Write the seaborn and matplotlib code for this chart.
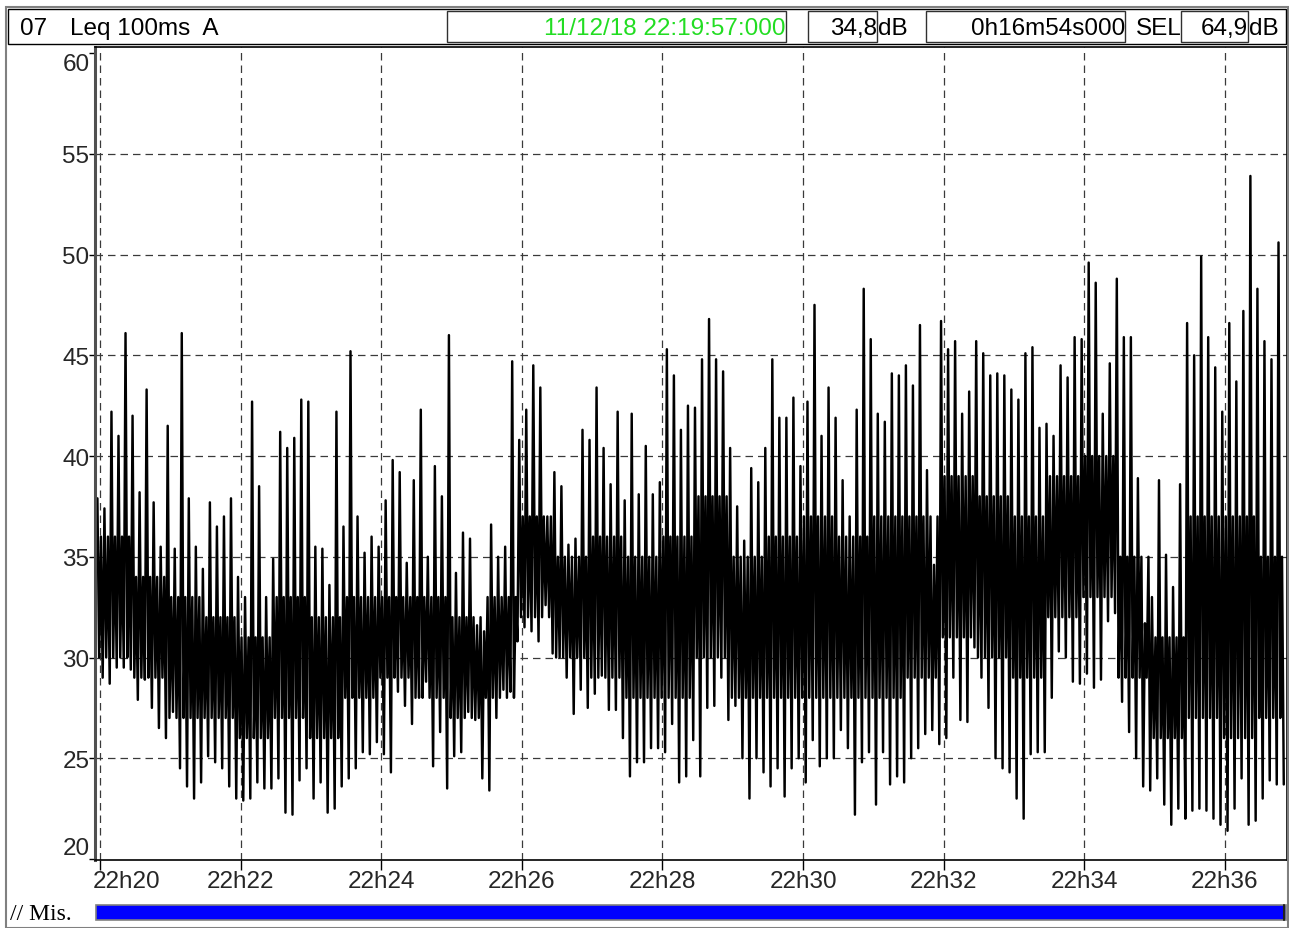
import numpy as np
import pandas as pd
import matplotlib
matplotlib.use("Agg")
import matplotlib.pyplot as plt
import matplotlib.transforms as mtrans
from matplotlib.patches import Rectangle
from matplotlib.lines import Line2D
import seaborn as sns

# Leq 100ms A, recording starts 11/12/18 22:19:57, lasts 16m54s (1014 s)
# values: upper and lower excursions per 6 s slice
peaks = [
    37.9, 37.4, 42.2, 41.0, 46.1, 42.0, 38.2, 43.3, 37.7, 35.5, 41.5, 35.4, 46.1, 37.9, 35.5, 34.4, 37.7, 36.5, 37.0, 37.9,
    34.0, 33.0, 42.7, 38.5, 33.0, 34.9, 41.2, 40.4, 40.9, 42.8, 42.7, 35.5, 35.4, 33.6, 42.2, 36.5, 45.2, 37.0, 35.2, 36.0, 35.5, 37.8,
    39.8, 39.2, 34.7, 38.8, 42.3, 35.0, 39.5, 38.0, 46.0, 34.2, 36.2, 35.9, 31.6, 31.3, 36.6, 35.0, 35.5, 44.7, 40.8, 42.3, 44.5,
    43.4, 37.0, 39.2, 38.5, 35.6, 35.9, 41.3, 40.8, 43.4, 40.4, 38.6, 42.2, 37.8, 42.1, 38.1, 40.5, 38.1, 38.7, 45.3, 44.0, 41.3, 42.5,
    42.4, 44.8, 46.8, 44.8, 44.2, 40.4, 37.5, 35.8, 39.4, 38.7, 40.4, 44.8, 41.9, 41.9, 42.9, 39.5, 42.7, 47.5, 41.0, 43.4, 41.9,
    38.8, 37.0, 42.3, 48.3, 45.8, 42.1, 41.7, 44.1, 44.0, 44.5, 43.5, 46.5, 39.3, 34.6, 46.7, 45.3, 45.7, 42.1, 43.2, 45.7, 45.1, 44.0,
    44.1, 44.0, 43.3, 42.8, 45.1, 45.4, 41.4, 41.6, 41.0, 44.5, 43.9, 45.9, 45.8, 49.6, 48.6, 42.1, 44.6, 48.8, 45.9, 45.9, 38.9,
    31.7, 33.0, 38.8, 35.1, 33.5, 38.6, 46.6, 45.0, 49.9, 45.9, 44.4, 42.2, 46.6, 43.7, 47.2, 53.9, 48.3, 45.7, 44.8, 50.6,
]
troughs = [
    29.0, 28.7, 29.5, 29.5, 29.4, 27.9, 28.9, 27.5, 26.5, 26.0, 27.3, 24.5, 23.6, 23.0, 23.8, 25.1, 24.8, 24.5, 23.6, 23.0,
    22.9, 23.0, 23.8, 23.5, 23.5, 24.0, 22.3, 22.2, 23.9, 24.5, 23.0, 23.8, 22.3, 22.5, 23.6, 24.0, 24.5, 25.3, 25.2, 25.8, 25.2, 24.3,
    28.3, 27.6, 26.7, 28.0, 28.8, 24.6, 26.3, 23.5, 25.1, 25.3, 27.3, 26.9, 24.0, 23.4, 27.0, 28.4, 28.3, 30.8, 31.5, 31.3, 30.8,
    32.6, 30.2, 30.0, 29.0, 27.2, 28.4, 27.5, 28.2, 29.1, 27.4, 27.4, 26.0, 24.1, 24.8, 24.8, 25.5, 25.5, 25.3, 26.7, 23.8, 24.1, 25.9,
    24.1, 27.5, 27.6, 29.0, 26.9, 27.6, 25.0, 23.0, 25.0, 24.3, 23.6, 24.5, 23.1, 24.5, 25.0, 23.8, 25.9, 24.6, 25.0, 25.0, 26.4,
    25.5, 22.2, 24.8, 25.3, 22.7, 25.3, 23.7, 24.1, 23.8, 25.0, 25.5, 26.2, 26.4, 25.7, 26.0, 29.0, 26.9, 26.8, 30.5, 29.0, 27.5, 25.0,
    24.5, 24.3, 23.0, 22.0, 25.2, 25.3, 25.3, 28.0, 30.3, 30.0, 28.8, 28.7, 29.2, 28.5, 28.9, 31.8, 32.2, 27.8, 26.3, 25.0, 23.6,
    23.4, 24.0, 22.7, 21.7, 22.5, 22.0, 22.4, 22.5, 22.4, 22.0, 21.7, 21.4, 22.5, 24.0, 21.7, 21.9, 23.0, 23.9, 23.7, 23.7,
]
# dense middle of the trace, per 30 s slice
core_lo = [30, 29, 27, 27, 26, 27, 26, 28, 29, 28, 27, 28, 32, 30, 29, 28, 28,
           30, 28, 28, 28, 28, 28, 29, 31, 30, 29, 32, 33, 29, 26, 27, 26, 27]
core_hi = [36, 34, 33, 32, 31, 33, 32, 33, 33, 33, 32, 33, 37, 35, 36, 35, 36,
           38, 35, 36, 37, 36, 37, 37, 39, 38, 37, 39, 40, 35, 31, 37, 37, 35]

tick_labels = ["22h20", "22h22", "22h24", "22h26", "22h28", "22h30", "22h32", "22h34", "22h36"]
y_ticks = [20, 25, 30, 35, 40, 45, 50, 55, 60]

# trace per 6 s slice: high excursion, dense band, low excursion
step = 6
t_vals, db_vals = [], []
for i, (p, q) in enumerate(zip(peaks, troughs)):
    k = min(i // 5, len(core_lo) - 1)
    t0 = i * step
    t_vals += [t0 + 0.75, t0 + 2.25, t0 + 3.75, t0 + 5.25]
    db_vals += [p, core_lo[k], core_hi[k], q]
level_df = pd.DataFrame({"t": t_vals, "db": db_vals})
tick_sec = [3 + 120 * i for i in range(len(tick_labels))]

W, H = 1289, 929
sns.set_theme(style="white")
plt.rcParams["font.family"] = ["Liberation Sans", "DejaVu Sans"]

fig = plt.figure(figsize=(W / 100, H / 100), dpi=100)


def fx(px):
    return px / W


def fy(py):
    return 1 - py / H


ax = fig.add_axes([fx(95), fy(861), fx(1287) - fx(95), fy(48) - fy(861)])
sns.lineplot(data=level_df, x="t", y="db", ax=ax, color="black", lw=1.75,
             estimator=None, sort=False, legend=False)

ax.set_xlim(-1.3, 1016)
ax.set_ylim(19.95, 60.3)
for yv in y_ticks[1:-1]:
    ax.axhline(yv, color="#3a3a3a", lw=0.9, ls=(0, (6, 4)), zorder=0)
for tv in tick_sec:
    ax.axvline(tv, color="#3a3a3a", lw=0.9, ls=(0, (6, 4)), zorder=0)

ax.set_xticks(tick_sec)
ax.set_xticklabels(tick_labels)
ax.set_yticks(y_ticks)
ax.set_yticklabels([str(v) for v in y_ticks])
ax.set_xlabel("")
ax.set_ylabel("")
ax.tick_params(axis="x", direction="out", length=7, width=1, color="black",
               labelsize=17.5, pad=0.5, bottom=True)
ax.tick_params(axis="y", direction="out", length=4, width=1, color="black",
               labelsize=17.5, pad=0, left=True)
for s in ax.spines.values():
    s.set_color("black")
    s.set_linewidth(1.2)
ax.spines["left"].set_linewidth(2.2)
ax.spines["left"].set_color("#505050")

ylabs = ax.get_yticklabels()
ylabs[-1].set_va("top")
ylabs[0].set_va("bottom")
first = ax.get_xticklabels()[0]
first.set_ha("left")
first.set_transform(first.get_transform() + mtrans.ScaledTranslation(-7 / 100, 0, fig.dpi_scale_trans))

# outer frame and header
fig.add_artist(Rectangle((fx(6), fy(929)), fx(1288) - fx(6), fy(8) - fy(929),
                         transform=fig.transFigure, fill=False, ec="#808080", lw=1.5))
fig.add_artist(Rectangle((fx(8), fy(45)), fx(1286) - fx(8), fy(10) - fy(45),
                         transform=fig.transFigure, fill=False, ec="black", lw=1))
for x0, x1 in [(447, 786), (808, 877), (926, 1125), (1181, 1248)]:
    fig.add_artist(Rectangle((fx(x0), fy(43)), fx(x1) - fx(x0), fy(12) - fy(43),
                             transform=fig.transFigure, fill=False, ec="#303030", lw=1))

hdr = dict(fontsize=17.5, va="center", color="black")
yh = fy(29)
fig.text(fx(20), yh, "07", ha="left", **hdr)
fig.text(fx(70), yh, "Leq 100ms  A", ha="left", **hdr)
fig.text(fx(786), yh, "11/12/18 22:19:57:000", ha="right", fontsize=17.5, va="center", color="#22dd22")
fig.text(fx(877), yh, "34,8", ha="right", **hdr)
fig.text(fx(878), yh, "dB", ha="left", **hdr)
fig.text(fx(1125), yh, "0h16m54s000", ha="right", **hdr)
fig.text(fx(1136), yh, "SEL", ha="left", **hdr)
fig.text(fx(1248), yh, "64,9", ha="right", **hdr)
fig.text(fx(1249), yh, "dB", ha="left", **hdr)

# footer bar
fig.text(fx(10), fy(915), "// Mis.", ha="left", va="center", fontsize=17,
         family=["Liberation Serif", "DejaVu Serif"], color="black")
fig.add_artist(Rectangle((fx(96), fy(921)), fx(1286) - fx(96), fy(906) - fy(921),
                         transform=fig.transFigure, fc="#0000ff", ec="#808080", lw=1.2))
fig.add_artist(Line2D([fx(1284), fx(1284)], [fy(906), fy(921)],
                      transform=fig.transFigure, color="#202020", lw=1.5))

fig.savefig("out.png", dpi=100)
